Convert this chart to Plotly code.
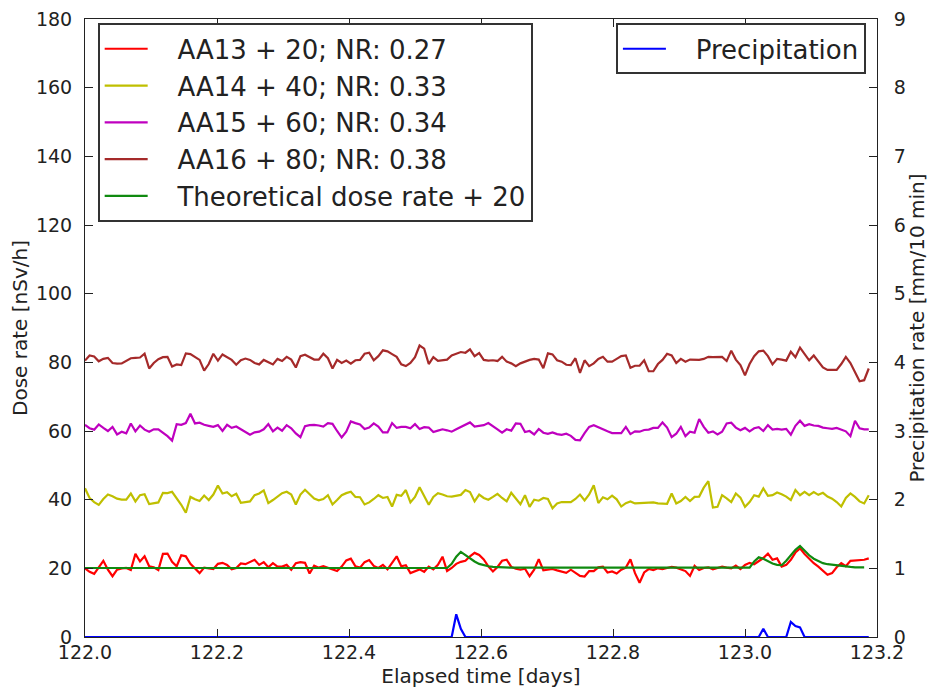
import plotly.graph_objects as go

# Sampling: one reading every 10 minutes starting at day 122.0
start_day = 122.0
step_days = 10.0 / 1440.0

# AA13 dose rate (+20 offset), nSv/h
aa13 = [
    20, 19, 18.4, 20.3, 22.2, 19.6, 17.7, 19.6, 20, 20.1, 19.5, 24.2, 22, 23.5, 20.6,
    20.3, 19.5, 24.2, 24.3, 21.9, 20.6, 23.8, 23.5, 21.3, 19.8, 18.6, 20.2, 20, 19.8,
    21.3, 21.6, 21, 19.7, 20.1, 21.4, 21.2, 21.9, 22.5, 21, 21.8, 20.3, 21.5, 20.5,
    20.5, 21, 19.6, 21.5, 21.8, 21.6, 18.5, 20.8, 20.2, 20.6, 20.1, 19.8, 19.2, 20.5,
    22.3, 22.8, 20.6, 20.2, 21.8, 22.4, 20.7, 20.1, 21, 19.7, 21.7, 23.5, 20.6, 20.9,
    18.6, 19.2, 19.7, 19, 20.5, 19.7, 21, 23.4, 19.2, 20.1, 21.3, 21.9, 22.2, 23.5,
    24.5, 23.9, 22.6, 20.6, 19.1, 20.4, 22.2, 22.5, 20.4, 19.9, 19.6, 19.9, 17.7, 19.6,
    22.7, 19.4, 19.5, 19.8, 19.4, 19, 18.7, 19.6, 18.8, 17.8, 17.6, 19.2, 19.2, 20.3,
    20.5, 18.8, 19.1, 18.5, 19.6, 20.2, 22.6, 18.6, 15.8, 18.8, 19.8, 19.5,
    20, 19.8, 20.1, 20.4, 20.2, 19.6, 19.2, 17.8, 20.7, 19.5, 20.1, 20.3, 19.7, 20.1,
    20.5, 20.2, 20, 20.8, 19.8, 21, 21.6, 21.2, 22.2, 23, 24.3, 22.5, 22.9,
    20.5, 21, 22.5, 24.6, 25.8, 24.2, 22.8, 21.5, 20.5, 19.2, 18.1, 18.6, 20.3, 21.5,
    20.6, 22.2, 22.3, 22.6, 22.5, 22.9,
]

# AA14 dose rate (+40 offset), nSv/h
aa14 = [
    43.3, 40.5, 39.3, 38.5, 40.2, 41.5, 41, 40.3, 40, 40, 41.8, 39.5, 41.3, 41.6, 38.7,
    39, 39.2, 42, 41.9, 42.3, 40.5, 38.5, 36.2, 40.8, 40.1, 39.6, 41.2, 39.9, 41.5,
    44.1, 41.8, 42.2, 41, 41.7, 39.1, 39.3, 39.5, 41.3, 41.8, 42.7, 39, 39.9, 40.8,
    41.9, 42.3, 41.5, 38.6, 41.5, 42.9, 41.5, 40.3, 39.8, 40.2, 41.3, 38.6, 39.9, 41.3,
    41.9, 42.3, 40.8, 40.7, 38.6, 39.2, 40.2, 41.3, 40.5, 40.8, 38, 41.4, 41.1, 42.8,
    39.2, 40.8, 43.6, 41.1, 38.5, 40.8, 41.9, 41.5, 41, 40.9, 41.1, 41.4, 42.8, 42.2,
    39.5, 41.5, 40.5, 40, 40.8, 41.7, 40.5, 39.5, 42, 40.2, 38.7, 41.3, 37.9, 40, 39.7,
    40.5, 40.2, 37.5, 38.9, 39.3, 39.4, 39.3, 40.2, 41.5, 39.8, 41.5, 44.2, 39, 40.7,
    40.1, 41.2, 40.1, 38, 39, 39.5, 38.9, 39, 39, 39, 39.2,
    38.9, 38.8, 38.8, 41.8, 38.9, 39.6, 40.8, 39.6, 40.8, 40.9, 43.5, 45.4, 37.7, 37.9,
    41.3, 40.4, 39.3, 41.8, 40.6, 37.9, 39.3, 41.3, 40.9, 43.3, 41.1, 41.3, 42.1,
    41.6, 40.9, 39.9, 42.8, 41.3, 42.3, 41.3, 42.2, 41.4, 42, 40.9, 40.3, 39.3, 38,
    40.5, 41.8, 40.8, 39.5, 38.9, 41.3,
]

# AA15 dose rate (+60 offset), nSv/h
aa15 = [
    61.8, 60.8, 60.4, 61.9, 60.9, 60, 61.2, 59, 59.8, 59.3, 62.2, 59.9, 61.6, 60.4, 59.8,
    60.5, 60.5, 59.5, 58.5, 57.2, 62, 61.8, 62.3, 65, 62.2, 62.4, 61.8, 61.5, 61.2,
    61.7, 60, 61.8, 60.9, 61.3, 60.5, 59.5, 58.9, 59.6, 59.8, 60.5, 62, 59.9, 61,
    60.1, 61.7, 60.8, 59.3, 58.2, 61.4, 61.7, 61.8, 61.6, 61.3, 62.3, 62.1, 60, 58.1,
    59.8, 62.8, 62.3, 61.9, 60.6, 61, 62.2, 61.3, 59.6, 59.6, 62.3, 60.9, 61.2, 61.2,
    60.8, 62, 60.6, 61.1, 61, 59.7, 60.1, 60.5, 60.2, 59.8, 60.5, 61.2, 61.9, 62.5,
    61.3, 61.5, 61.7, 62.3, 61.5, 60.5, 59.5, 60.5, 60.1, 62.2, 62.1, 59.7, 60, 59,
    60.6, 59.5, 59.2, 59.6, 59.1, 58.9, 59.2, 58.6, 57.4, 57.3, 59.4, 61.2, 61.7, 61.1,
    60.3, 59.9, 59.4, 59.5, 59.4, 61.2, 59.1, 59.9, 59.8, 60.3, 60.4, 60.9,
    60.9, 62.5, 61, 58.2, 59.2, 61.2, 58.5, 59.8, 59.5, 63.5, 61.2, 59.5, 59.9, 59,
    59.8, 62.2, 62.4, 61, 60.2, 60.9, 59.9, 60.8, 61.1, 60, 61.7, 60.4, 60.6,
    60.4, 60.6, 58.9, 61.5, 63, 61.5, 62, 61.6, 61.5, 61, 60.8, 60.6, 60.9, 60.3,
    59.9, 58.5, 63, 60.8, 60.5, 60.5,
]

# AA16 dose rate (+80 offset), nSv/h
aa16 = [
    80.5, 82, 81.7, 80.3, 81, 81.3, 79.8, 79.6, 79.7, 80.4, 81.2, 81.3, 81.4, 82.5, 78.2,
    79.8, 80.9, 81.5, 81.6, 78.8, 79.4, 79.2, 82.6, 82.4, 81.5, 80.7, 77.6, 79.5, 82.5,
    80.5, 82.3, 81.4, 80.7, 79.3, 80.6, 81.1, 80.7, 79.8, 79.4, 80.7, 80.1, 79.4, 81,
    80.4, 81.6, 80.8, 78.5, 81.8, 82.2, 81.4, 80.8, 80.8, 82.5, 81.2, 78.2, 80.7, 79.8,
    80.5, 79.6, 80.6, 80.7, 82.5, 82.8, 80.6, 81.8, 83.5, 83.2, 82.4, 81.6, 79.4, 78.9,
    79.8, 81.5, 84.9, 84, 79.5, 81.5, 80.4, 80.5, 80.8, 82, 82.6, 83, 82.8, 83.8,
    81.8, 82.7, 80.7, 80.5, 80.6, 80.4, 81.6, 80.2, 79.7, 78.9, 79.7, 80.3, 80.7, 81,
    80.8, 78.3, 82.6, 82.3, 80.6, 80.2, 79.3, 79.2, 81.2, 76.9, 80.6, 78.9, 79.7, 81,
    81.6, 80.2, 80.2, 81, 81.8, 82, 78.4, 79, 79, 80.6, 77.4, 77.4,
    79.5, 80.7, 82.5, 82, 79.8, 81, 80.2, 80.8, 80.7, 80.7, 81, 81.6, 81.5, 81.5,
    81.6, 80.4, 83.4, 80.8, 79.2, 76.2, 79.5, 81.8, 83.2, 83.4, 81.8, 79.4, 81,
    80.8, 80.5, 83.1, 81.5, 84.3, 82.3, 80.6, 82, 80.4, 78.5, 77.8, 77.9, 77.8, 79.5,
    81.6, 79.8, 77, 74.5, 74.8, 78.2,
]

# Theoretical dose rate (+20 offset), nSv/h
theoretical = [
    20.1, 20.1, 20.1, 20.1, 20.1, 20.1, 20.1, 20.1, 20.1, 20.1, 20.1, 20.1, 20.1, 20.1,
    20.1, 20.1, 20.1, 20.1, 20.1, 20.1, 20.1, 20.1, 20.1, 20.1, 20.1, 20.1, 20.1, 20.1,
    20.1, 20.1, 20.1, 20.1, 20.1, 20.1, 20.1, 20.1, 20.1, 20.1, 20.1, 20.1, 20.1, 20.1,
    20.1, 20.1, 20.1, 20.1, 20.1, 20.1, 20.1, 20.1, 20.1, 20.1, 20.1, 20.1, 20.1, 20.1,
    20.1, 20.1, 20.1, 20.1, 20.1, 20.1, 20.1, 20.1, 20.1, 20.1, 20.1, 20.1, 20.1, 20.1,
    20.1, 20.1, 20.1, 20.1, 20.1, 20.1, 20.1, 20.1, 20.1, 20.1,
    21.3, 23.4, 24.8, 23.8, 22.8, 22.0, 21.3, 20.9, 20.6, 20.4, 20.3,
    20.3, 20.2, 20.2, 20.2, 20.2, 20.1, 20.1, 20.1, 20.1, 20.1, 20.1, 20.1, 20.1, 20.1,
    20.1, 20.1, 20.1, 20.1, 20.1, 20.1, 20.1, 20.1, 20.1, 20.1, 20.1, 20.1, 20.1, 20.1,
    20.1, 20.1, 20.1, 20.1, 20.1, 20.1, 20.1, 20.1, 20.1, 20.1, 20.1, 20.1, 20.1, 20.1,
    20.1, 20.1, 20.1, 20.1, 20.1, 20.1, 20.1, 20.1, 20.1, 20.1, 20.1, 20.1,
    20.2, 22.0, 23.2, 22.8, 22.0, 21.4, 21.0, 20.9, 22.2, 23.8, 25.4, 26.5, 25.0, 23.8,
    22.8, 22.1, 21.5, 21.2, 21.0, 20.8, 20.6, 20.5, 20.4, 20.3, 20.3, 20.3,
]

# Precipitation rate, mm per 10 min
precipitation = [
    0, 0, 0, 0, 0, 0, 0, 0, 0, 0, 0, 0, 0, 0, 0, 0, 0, 0, 0, 0,
    0, 0, 0, 0, 0, 0, 0, 0, 0, 0, 0, 0, 0, 0, 0, 0, 0, 0, 0, 0,
    0, 0, 0, 0, 0, 0, 0, 0, 0, 0, 0, 0, 0, 0, 0, 0, 0, 0, 0, 0,
    0, 0, 0, 0, 0, 0, 0, 0, 0, 0, 0, 0, 0, 0, 0, 0, 0, 0, 0, 0,
    0, 0.33, 0.12, 0, 0, 0, 0, 0, 0, 0, 0, 0, 0, 0, 0, 0, 0, 0, 0, 0,
    0, 0, 0, 0, 0, 0, 0, 0, 0, 0, 0, 0, 0, 0, 0, 0, 0, 0, 0, 0,
    0, 0, 0, 0, 0, 0, 0, 0, 0, 0, 0, 0, 0, 0, 0, 0, 0, 0, 0, 0,
    0, 0, 0, 0, 0, 0, 0, 0, 0.12, 0, 0, 0, 0, 0, 0.22, 0.16, 0.14, 0, 0, 0,
    0, 0, 0, 0, 0, 0, 0, 0, 0, 0, 0, 0,
]

elapsed = [start_day + k * step_days for k in range(len(aa13))]

dose_series = [
    ("AA13 + 20; NR: 0.27", aa13, "#ff0000"),
    ("AA14 + 40; NR: 0.33", aa14, "#bfbf00"),
    ("AA15 + 60; NR: 0.34", aa15, "#bf00bf"),
    ("AA16 + 80; NR: 0.38", aa16, "#a52a2a"),
    ("Theoretical dose rate + 20", theoretical, "#108a10"),
]

x_ticks = [122.0, 122.2, 122.4, 122.6, 122.8, 123.0, 123.2]
dose_ticks = [0, 20, 40, 60, 80, 100, 120, 140, 160, 180]
precip_ticks = [0, 1, 2, 3, 4, 5, 6, 7, 8, 9]

FONT = "DejaVu Sans"
INK = "#222222"
LEGEND_FONT = dict(size=26, color=INK)
# non-breaking spaces widen the gap between legend line and label
LABEL_PAD = "\u00a0" * 3

fig = go.Figure()
for name, values, color in dose_series:
    fig.add_trace(go.Scatter(
        x=elapsed, y=values, name=LABEL_PAD + name, mode="lines",
        line=dict(color=color, width=2.2), legend="legend",
    ))

fig.add_trace(go.Scatter(
    x=elapsed, y=precipitation, name=LABEL_PAD + "Precipitation", mode="lines",
    line=dict(color="#0000ff", width=2.2), yaxis="y2", legend="legend2",
))

fig.update_layout(
    width=929, height=692,
    margin=dict(l=85, r=52, t=19, b=55),
    paper_bgcolor="white", plot_bgcolor="white",
    font=dict(family=FONT, size=19, color=INK),
    xaxis=dict(
        range=[122.0, 123.2], tickvals=x_ticks, tickformat=".1f",
        ticks="inside", ticklen=8, tickcolor=INK, ticklabelstandoff=-2,
        showline=True, linecolor=INK, linewidth=1, mirror="ticks",
        showgrid=False, zeroline=False, automargin=False,
        title=dict(text="Elapsed time [days]", font=dict(size=20), standoff=7),
    ),
    yaxis=dict(
        range=[0, 180], tickvals=dose_ticks,
        ticks="inside", ticklen=8, tickcolor=INK, ticklabelstandoff=8,
        showline=True, linecolor=INK, linewidth=1, mirror=True,
        showgrid=False, zeroline=False, automargin=False,
        title=dict(text="Dose rate [nSv/h]", font=dict(size=20), standoff=2),
    ),
    yaxis2=dict(
        range=[0, 9], tickvals=precip_ticks, overlaying="y", side="right",
        ticks="inside", ticklen=8, tickcolor=INK, ticklabelstandoff=12,
        showline=True, linecolor=INK, linewidth=1,
        showgrid=False, zeroline=False, automargin=False,
        title=dict(text="Precipitation rate [mm/10 min]", font=dict(size=20), standoff=0),
    ),
    legend=dict(
        x=0.016, y=0.993, xanchor="left", yanchor="top",
        bgcolor="white", bordercolor="#333333", borderwidth=2,
        font=LEGEND_FONT, itemwidth=43,
    ),
    legend2=dict(
        x=0.986, y=0.993, xanchor="right", yanchor="top",
        bgcolor="white", bordercolor="#333333", borderwidth=2,
        font=LEGEND_FONT, itemwidth=43,
    ),
    showlegend=True,
)

fig.write_html("out.html")
